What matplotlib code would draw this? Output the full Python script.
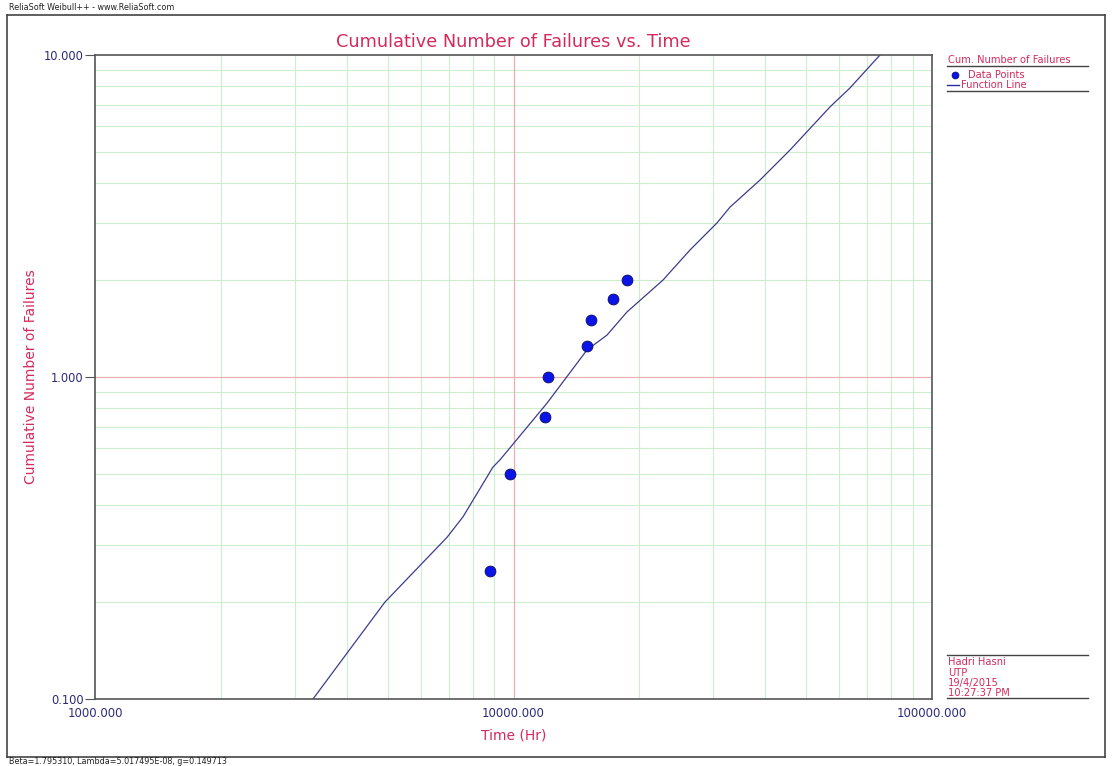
import numpy as np
import matplotlib.pyplot as plt
import matplotlib.ticker as mticker
from matplotlib.lines import Line2D

# ── Data ──────────────────────────────────────────────────────────────────────
time_pts = [8790, 9810, 11890, 12090, 14980, 15310, 17290, 18670]
cum_failures = [0.25, 0.50, 0.75, 1.00, 1.25, 1.50, 1.75, 2.00]

line_time = [3318, 4930, 6940, 7575, 8930, 9284, 12030, 14980, 16730, 18670,
             22760, 26410, 30640, 32910, 38820, 45790, 57060, 63680, 75110]
line_cum = [0.100, 0.200, 0.318, 0.368, 0.525, 0.553, 0.830, 1.213, 1.350,
            1.592, 2.000, 2.480, 3.010, 3.370, 4.090, 5.070, 6.900, 7.900, 10.0]

x_ticks = [1000, 10000, 100000]
y_ticks = [0.1, 1.0, 10.0]

CRIMSON = "#d42a5b"
NAVY = "#2b2b7a"
GREEN = "#cdeecd"
PINK = "#e8b0b0"

# ── Figure ────────────────────────────────────────────────────────────────────
fig = plt.figure(figsize=(11.14, 7.66), dpi=100)
fig.patch.set_facecolor("white")
ax = fig.add_axes([95 / 1114, 1 - 699 / 766, 837 / 1114, 644 / 766])

ax.set_xscale("log")
ax.set_yscale("log")
ax.set_xlim(1000, 100000)
ax.set_ylim(0.1, 10)

# grid
for dec in (1000, 10000):
    for m in range(2, 10):
        ax.axvline(dec * m, color=GREEN, lw=0.8, zorder=0)
for dec in (0.1, 1.0):
    for m in range(2, 10):
        ax.axhline(dec * m, color=GREEN, lw=0.8, zorder=0)
ax.axvline(10000, color=PINK, lw=0.9, zorder=1)
ax.axhline(1.0, color=PINK, lw=0.9, zorder=1)

ax.plot(line_time, line_cum, color="#3c3c8c", lw=0.9, zorder=2)
ax.plot(time_pts, cum_failures, "o", ms=7.8, color="#0a14e6",
        mec="#0a0a60", mew=0.6, zorder=3)

ax.xaxis.set_major_locator(mticker.FixedLocator(x_ticks))
ax.yaxis.set_major_locator(mticker.FixedLocator(y_ticks))
ax.xaxis.set_minor_locator(mticker.NullLocator())
ax.yaxis.set_minor_locator(mticker.NullLocator())
ax.xaxis.set_major_formatter(mticker.FuncFormatter(lambda v, p: f"{v:.3f}"))
ax.yaxis.set_major_formatter(mticker.FuncFormatter(lambda v, p: f"{v:.3f}"))
ax.tick_params(axis="x", length=0, pad=6, labelsize=8.5, labelcolor=NAVY)
ax.tick_params(axis="y", length=7, width=0.8, color="#555555", pad=1,
               labelsize=8.3, labelcolor=NAVY)

for spine in ax.spines.values():
    spine.set_edgecolor("#555555")
    spine.set_linewidth(1.2)

ax.set_title("Cumulative Number of Failures vs. Time", color=CRIMSON,
             fontsize=12.8, pad=6)
ax.set_xlabel("Time (Hr)", color=CRIMSON, fontsize=10, labelpad=6)
ax.set_ylabel("Cumulative Number of Failures", color=CRIMSON, fontsize=10,
              labelpad=4)

# ── Outer frame and header / footer ──────────────────────────────────────────
def px(x, y):
    return x / 1114, 1 - y / 766

def hline(x0, x1, y, color="#444444", lw=1.0):
    fig.add_artist(Line2D([x0 / 1114, x1 / 1114], [1 - y / 766, 1 - y / 766],
                          color=color, lw=lw))

def vline(x, y0, y1, color="#444444", lw=1.0):
    fig.add_artist(Line2D([x / 1114, x / 1114], [1 - y0 / 766, 1 - y1 / 766],
                          color=color, lw=lw))

hline(7, 1105, 15, lw=1.2)
hline(7, 1105, 757, lw=1.2)
vline(7, 15, 757, lw=1.2)
vline(1105, 15, 757, lw=1.2)

fig.text(*px(9, 8), "ReliaSoft Weibull++ - www.ReliaSoft.com", fontsize=5.8,
         color="#222222", va="center", ha="left")
fig.text(*px(9, 762), "Beta=1.795310, Lambda=5.017495E-08, g=0.149713",
         fontsize=5.8, color="#222222", va="center", ha="left")

# ── Right-hand legend panel ───────────────────────────────────────────────────
fig.text(*px(948, 60), "Cum. Number of Failures", fontsize=7.1, color=CRIMSON,
         va="center", ha="left")
hline(947, 1088, 66)
fig.add_artist(Line2D([955 / 1114], [1 - 75 / 766], marker="o", ms=5,
                      color="#0a14e6", mec="#0a0a60", mew=0.5))
fig.text(*px(968, 75), "Data Points", fontsize=7.1, color=CRIMSON,
         va="center", ha="left")
hline(947, 959, 85, color="#2b2b9a")
fig.text(*px(961, 85), "Function Line", fontsize=7.1, color=CRIMSON,
         va="center", ha="left")
hline(947, 1088, 91)

hline(947, 1088, 655)
for i, s in enumerate(["Hadri Hasni", "UTP", "19/4/2015", "10:27:37 PM"]):
    fig.text(*px(948, 662 + i * 10.5), s, fontsize=7.1, color=CRIMSON,
             va="center", ha="left")
hline(947, 1088, 698)

fig.savefig("out.png", dpi=100, facecolor="white")
